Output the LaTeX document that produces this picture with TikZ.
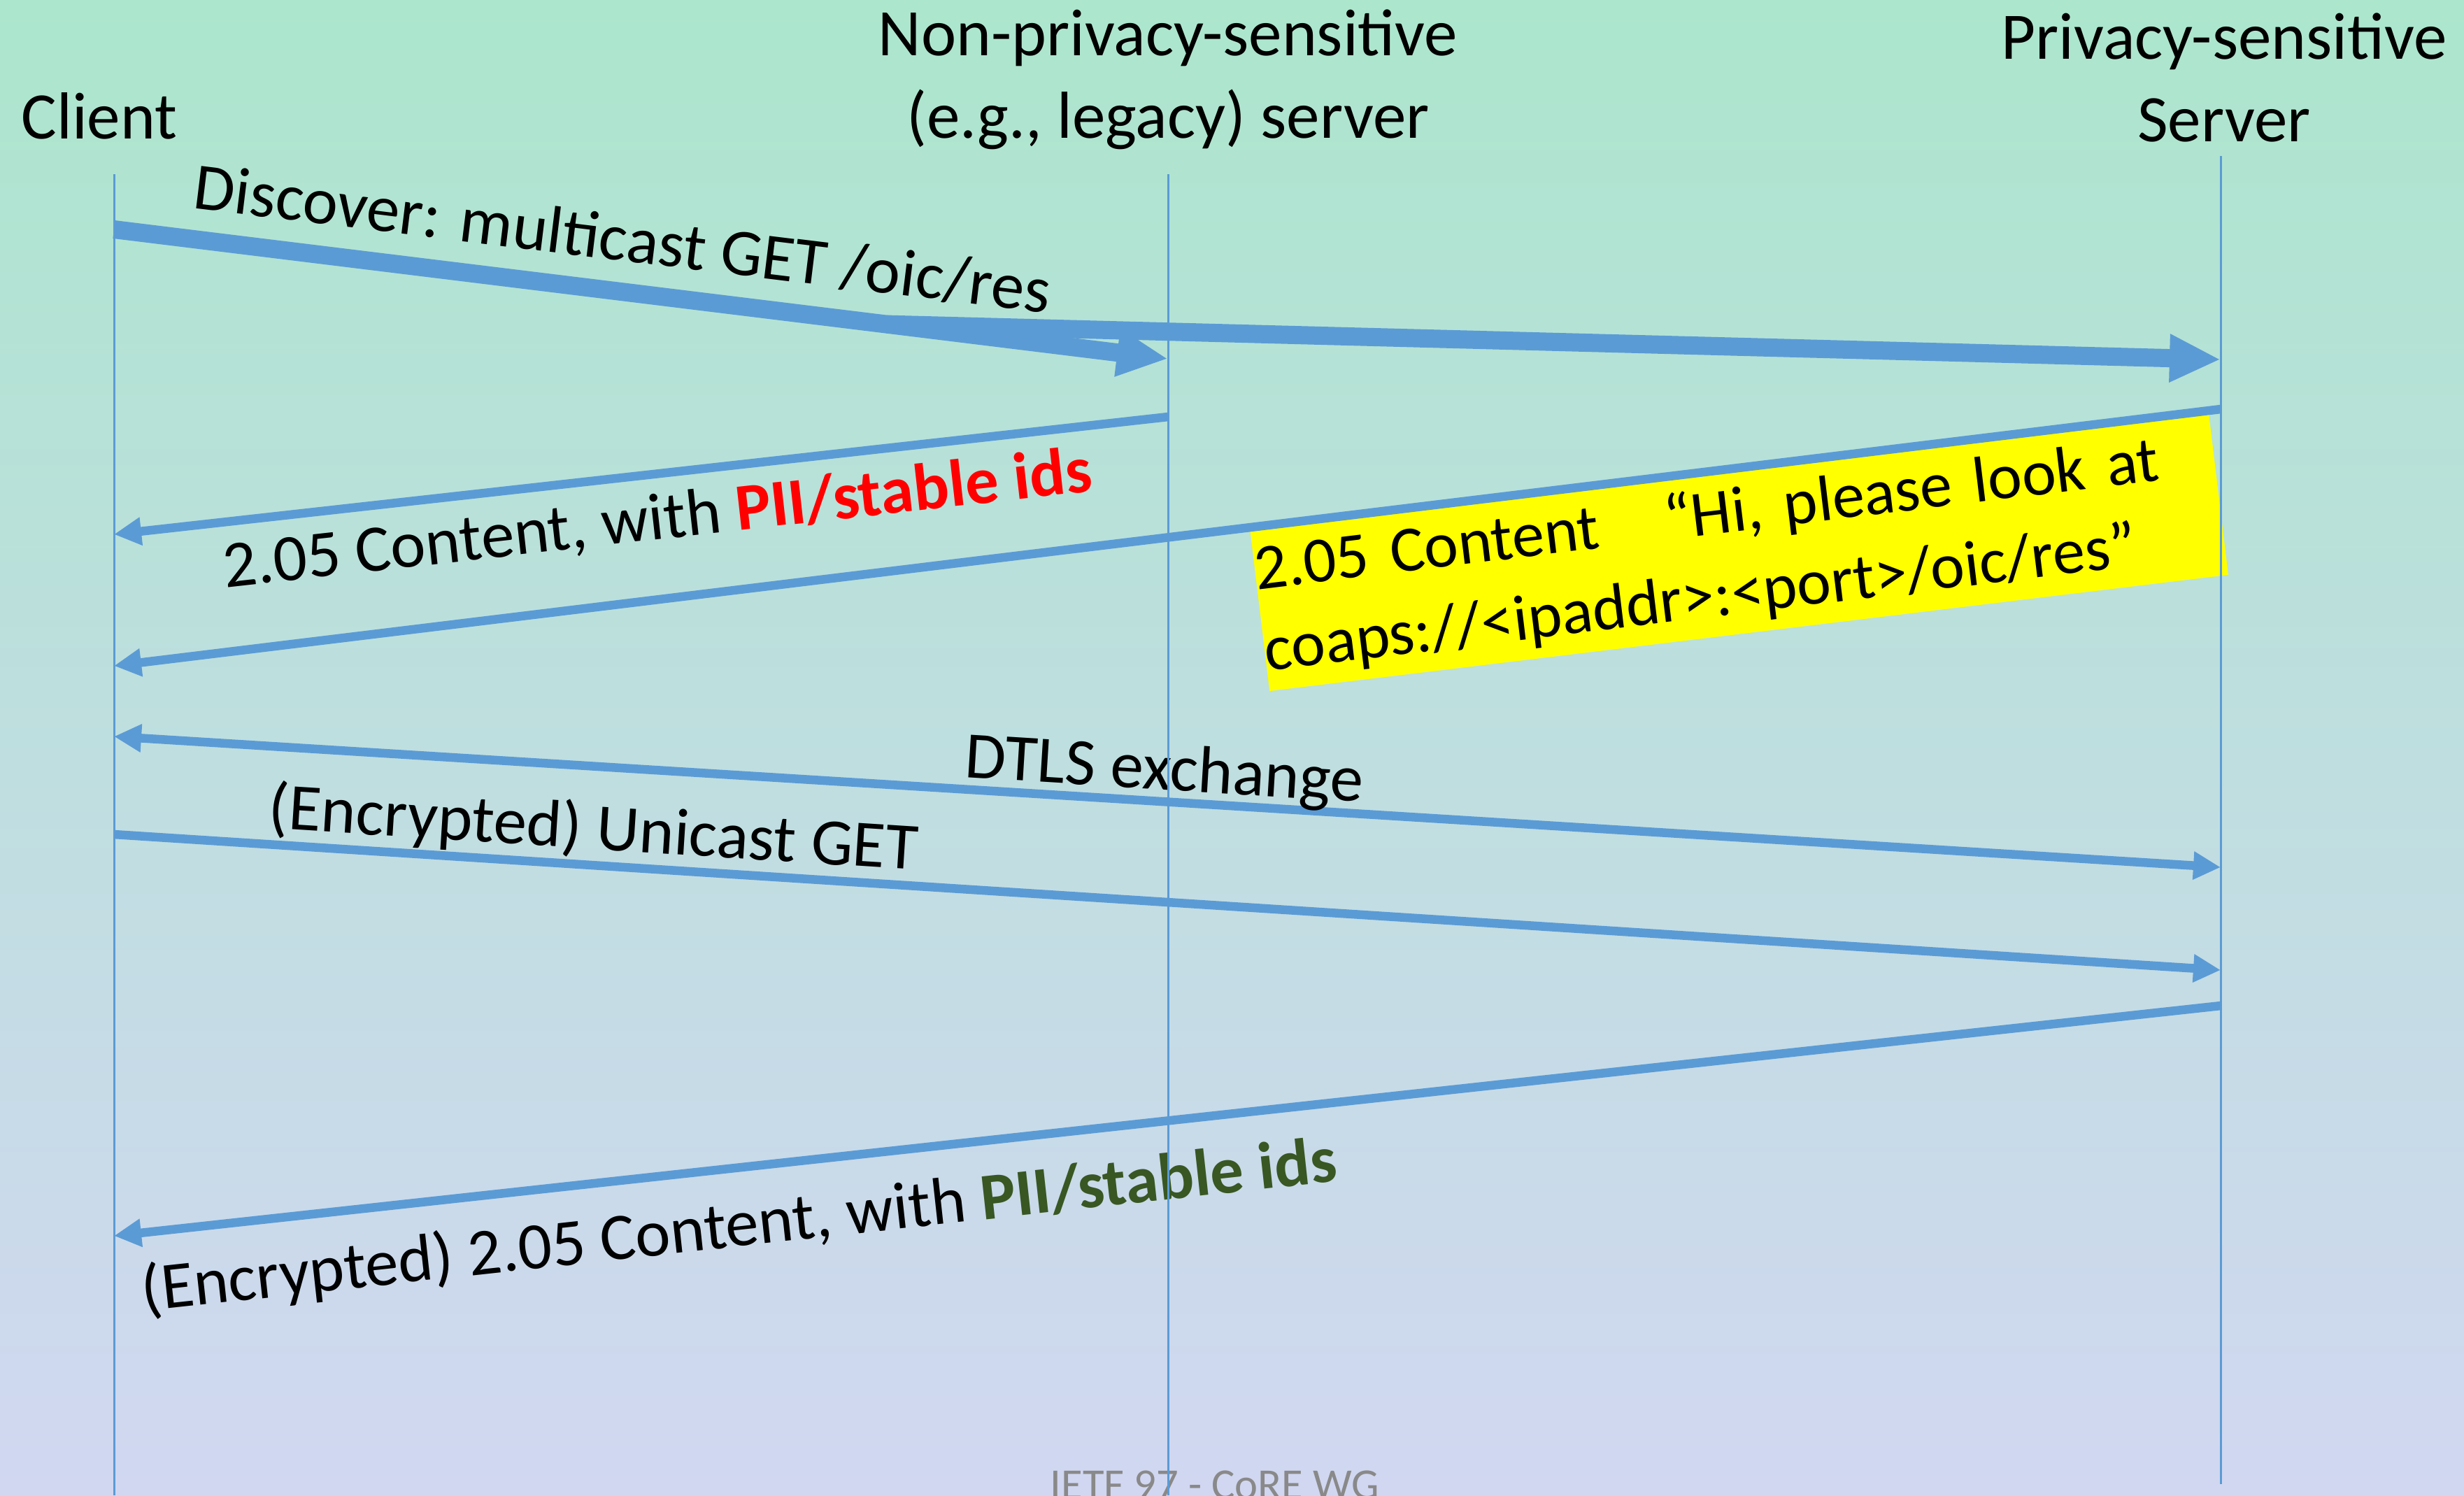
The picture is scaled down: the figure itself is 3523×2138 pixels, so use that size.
\documentclass[tikz,border=0pt]{standalone}
\usepackage{fontspec}
\setmainfont{Carlito}
\usetikzlibrary{arrows.meta,calc}
\definecolor{bgtop}{RGB}{172,230,205}
\definecolor{bgbot}{RGB}{209,215,241}
\definecolor{arrowblue}{HTML}{5B9BD5}
\definecolor{piired}{HTML}{FF0000}
\definecolor{piigreen}{HTML}{385723}
\definecolor{footgray}{HTML}{898989}
\definecolor{noteyellow}{HTML}{FFFF00}
\tikzset{
  lbl/.style={font=\fontsize{27.03pt}{33.29pt}\selectfont, inner sep=0pt, text=black},
  lifeline/.style={draw=arrowblue, line width=0.03cm},
  thickmsg/.style={draw=arrowblue, line width=0.26cm, -{Triangle[length=0.73cm,width=0.64cm]}},
  thinmsg/.style={draw=arrowblue, line width=0.125cm, -{Triangle[length=0.39cm,width=0.38cm]}},
  bimsg/.style={draw=arrowblue, line width=0.125cm, {Triangle[length=0.39cm,width=0.38cm]}-{Triangle[length=0.39cm,width=0.38cm]}},
  msglabel/.style={lbl, sloped, anchor=base west},
  notebox/.style={font=\fontsize{26.3pt}{33.29pt}\selectfont, text=black, fill=noteyellow, rotate=6.91, text width=13.8cm, align=left, inner sep=0pt, anchor=center},
}
\begin{document}
\begin{tikzpicture}[x=0.01cm,y=-0.01cm]
\useasboundingbox (0,0) rectangle (3523,2138);
\clip (0,0) rectangle (3523,2138);
\shade[top color=bgtop, bottom color=bgbot] (0,0) rectangle (3523,2138);

% footer
\node[font=\fontsize{17.8pt}{21pt}\selectfont, text=footgray, anchor=base, inner sep=0pt] (footer) at (1737,2143) {IETF 97 - CoRE WG};

% headers (base anchor = baseline of the last line)
\node[lbl, anchor=base] (hclient) at (142,198) {Client};
\node[lbl, anchor=base, align=center] (hlegacy) at (1670,197) {Non-privacy-sensitive\\(e.g., legacy) server};
\node[lbl, anchor=base, align=center] (hpriv) at (3180,202) {Privacy-sensitive\\Server};

% lifeline coordinates
\coordinate (ctop) at (163,249);  \coordinate (cbot) at (163,2138);
\coordinate (mtop) at (1670,249); \coordinate (mbot) at (1670,2138);
\coordinate (stop) at (3175,223); \coordinate (sbot) at (3175,2122);

% message end points
\coordinate (c1) at (163,328);  \coordinate (m1) at (1670,513);
\coordinate (b2) at ($(c1)!0.7326!(m1)$); \coordinate (s2) at (3175,514);
\coordinate (m3) at (1670,596); \coordinate (c3) at (163,764);
\coordinate (s4) at (3175,585); \coordinate (c4) at (163,952);
\coordinate (c5) at (163,1053); \coordinate (s5) at (3175,1240);
\coordinate (c6) at (163,1193); \coordinate (s6) at (3175,1387);
\coordinate (s7) at (3175,1438); \coordinate (c7) at (163,1767);

% yellow note
\node[notebox] (note) at (2486.5,788.75) {\rule{0pt}{0.88cm}2.05 Content\hspace{0.95cm}“Hi, please look at\\coaps://<ipaddr>:<port>/oic/res”\rule[-0.29cm]{0pt}{0.29cm}};

% messages
\draw[thickmsg] (c1) -- node[msglabel, pos=0.062] (l1) {\raisebox{0.44cm}{Discover: multicast GET /oic/res}} (m1);
\draw[thickmsg] (b2) -- (s2);
\draw[thinmsg] (m3) -- node[msglabel, pos=0.905] (l3) {\raisebox{-0.934cm}{2.05 Content, with {\bfseries\color{piired}PII/stable ids}}} (c3);
\draw[thinmsg] (s4) -- (c4);
\draw[bimsg] (c5) -- node[msglabel, pos=0.401] (l5) {\raisebox{0.17cm}{DTLS exchange}} (s5);
\draw[thinmsg] (c6) -- node[msglabel, pos=0.0704] (l6) {\raisebox{0.23cm}{(Encrypted) Unicast GET}} (s6);
\draw[thinmsg] (s7) -- node[msglabel, pos=0.992] (l7) {\raisebox{-1.12cm}{(Encrypted) 2.05 Content, with {\bfseries\color{piigreen}PII/stable ids}}} (c7);

% lifelines
\draw[lifeline] (ctop) -- (cbot);
\draw[lifeline] (mtop) -- (mbot);
\draw[lifeline] (stop) -- (sbot);
\end{tikzpicture}
\end{document}
